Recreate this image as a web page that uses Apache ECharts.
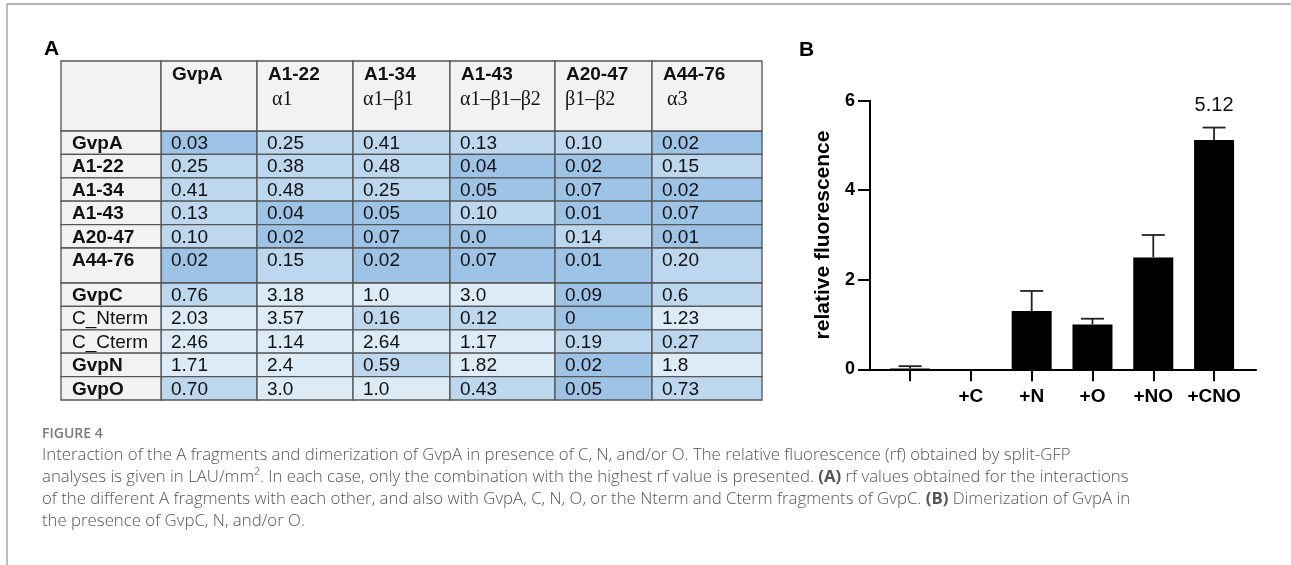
<!DOCTYPE html>
<html><head><meta charset="utf-8">
<script src="https://cdn.jsdelivr.net/npm/echarts@6/dist/echarts.min.js"></script>
<style>html,body{margin:0;padding:0;background:#fff}#c{width:1291px;height:565px}</style>
</head><body><div id="c"></div>
<script>
// ---------- DATA ----------
const colHeaders = ['GvpA', 'A1-22', 'A1-34', 'A1-43', 'A20-47', 'A44-76'];
const colSubHeaders = ['', ' α1', 'α1–β1', 'α1–β1–β2', 'β1–β2', ' α3'];
const rowLabels = ['GvpA', 'A1-22', 'A1-34', 'A1-43', 'A20-47', 'A44-76', 'GvpC', 'C_Nterm', 'C_Cterm', 'GvpN', 'GvpO'];
const rowGvpA   = ['0.03', '0.25', '0.41', '0.13', '0.10', '0.02'];
const rowA1_22  = ['0.25', '0.38', '0.48', '0.04', '0.02', '0.15'];
const rowA1_34  = ['0.41', '0.48', '0.25', '0.05', '0.07', '0.02'];
const rowA1_43  = ['0.13', '0.04', '0.05', '0.10', '0.01', '0.07'];
const rowA20_47 = ['0.10', '0.02', '0.07', '0.0', '0.14', '0.01'];
const rowA44_76 = ['0.02', '0.15', '0.02', '0.07', '0.01', '0.20'];
const rowGvpC   = ['0.76', '3.18', '1.0', '3.0', '0.09', '0.6'];
const rowCNterm = ['2.03', '3.57', '0.16', '0.12', '0', '1.23'];
const rowCCterm = ['2.46', '1.14', '2.64', '1.17', '0.19', '0.27'];
const rowGvpN   = ['1.71', '2.4', '0.59', '1.82', '0.02', '1.8'];
const rowGvpO   = ['0.70', '3.0', '1.0', '0.43', '0.05', '0.73'];
const tableRows = [rowGvpA, rowA1_22, rowA1_34, rowA1_43, rowA20_47, rowA44_76, rowGvpC, rowCNterm, rowCCterm, rowGvpN, rowGvpO];

const barCategories = ['', '+C', '+N', '+O', '+NO', '+CNO'];
const barValues = [0.02, 0, 1.3, 1.0, 2.5, 5.12];
const errorTops = [0.07, null, 1.75, 1.13, 3.0, 5.4];

// ---------- LAYOUT / STYLE ----------
const COL_W = [100, 96, 96, 97, 105, 97, 110];
const HEAD_H = 70, ROW_H = 23.4, TALL_H = 35, TALL_ROW = 5;
const plainRowLabels = new Set(['C_Nterm', 'C_Cterm']);
const colEdges = [0];
COL_W.forEach(w => colEdges.push(colEdges[colEdges.length - 1] + w));
const rowEdges = [0, HEAD_H];
rowLabels.forEach((_, i) => rowEdges.push(rowEdges[rowEdges.length - 1] + (i === TALL_ROW ? TALL_H : ROW_H)));
const TABLE_W = colEdges[colEdges.length - 1];
const TABLE_H = rowEdges[rowEdges.length - 1];
const SANS = '"Liberation Sans", Arial, sans-serif';
const SERIF = '"Liberation Serif", "Times New Roman", serif';
const CAP = '"Open Sans", sans-serif';
const BORDER = '#555';

// cells
const bodyCells = [];
tableRows.forEach((row, r) => row.forEach((t, c) => bodyCells.push({ value: [c + 1, r + 1, parseFloat(t)], text: t })));
const grayCells = [];
grayCells.push({ value: [0, 0], kind: 'corner' });
colHeaders.forEach((h, c) => grayCells.push({ value: [c + 1, 0], kind: 'head', text: h, sub: colSubHeaders[c] }));
rowLabels.forEach((l, r) => grayCells.push({ value: [0, r + 1], kind: 'row', text: l }));

function cellBox(api, ci, ri) {
  const p0 = api.coord([colEdges[ci], rowEdges[ri]]);
  const p1 = api.coord([colEdges[ci + 1], rowEdges[ri + 1]]);
  const pm = api.coord([colEdges[ci], rowEdges[ri] + ROW_H / 2]);
  return { x: p0[0], y: p0[1], w: p1[0] - p0[0], h: p1[1] - p0[1], midY: pm[1] };
}

const chart = echarts.init(document.getElementById('c'));
const errData = [];
errorTops.forEach((e, i) => { if (e != null) errData.push([i, barValues[i], e]); });
const maxBar = Math.max(...barValues);

const option = {
  animation: false,
  backgroundColor: '#fff',
  grid: [
    { left: 61, top: 61, width: TABLE_W, height: TABLE_H },
    { left: 870, top: 100.7, width: 386, height: 268.6 }
  ],
  xAxis: [
    { gridIndex: 0, type: 'value', min: 0, max: TABLE_W, show: false },
    {
      gridIndex: 1, type: 'value', min: -0.66, max: 5.69,
      splitLine: { show: false },
      axisLine: { show: true, onZero: false, lineStyle: { color: '#000', width: 2 } },
      axisTick: { show: true, length: 12, customValues: barCategories.map((_, i) => i), lineStyle: { color: '#000', width: 2 } },
      axisLabel: { customValues: barCategories.map((_, i) => i), formatter: v => barCategories[v], color: '#000', fontFamily: SANS, fontWeight: 'bold', fontSize: 19, margin: 18 }
    }
  ],
  yAxis: [
    { gridIndex: 0, type: 'value', min: 0, max: TABLE_H, inverse: true, show: false },
    {
      gridIndex: 1, type: 'value', min: 0, max: 6, interval: 2,
      splitLine: { show: false },
      axisLine: { show: true, onZero: false, lineStyle: { color: '#000', width: 2 } },
      axisTick: { show: true, length: 12, lineStyle: { color: '#000', width: 2 } },
      axisLabel: { color: '#000', fontFamily: SANS, fontWeight: 'bold', fontSize: 18, margin: 15 },
      name: 'relative fluorescence', nameLocation: 'middle', nameGap: 36,
      nameTextStyle: { color: '#000', fontFamily: SANS, fontWeight: 'bold', fontSize: 21 }
    }
  ],
  visualMap: {
    type: 'piecewise', show: false, seriesIndex: 0, dimension: 2,
    pieces: [
      { lt: 0.1, color: '#9DC3E6' },
      { gte: 0.1, lt: 1, color: '#BDD7EE' },
      { gte: 1, color: '#DDEBF7' }
    ]
  },
  series: [
    {
      type: 'custom', xAxisIndex: 0, yAxisIndex: 0, silent: true, clip: false,
      data: bodyCells,
      renderItem: (params, api) => {
        const b = cellBox(api, api.value(0), api.value(1));
        const cell = bodyCells[params.dataIndex];
        return {
          type: 'group', children: [
            { type: 'rect', shape: { x: b.x, y: b.y, width: b.w, height: b.h }, style: { fill: api.visual('color'), stroke: BORDER, lineWidth: 1.3 } },
            { type: 'text', style: { x: b.x + 10, y: b.midY + 1, text: cell.text, fill: '#111', font: '19px ' + SANS, verticalAlign: 'middle', align: 'left' } }
          ]
        };
      }
    },
    {
      type: 'custom', xAxisIndex: 0, yAxisIndex: 0, silent: true, clip: false,
      data: grayCells,
      renderItem: (params, api) => {
        const b = cellBox(api, api.value(0), api.value(1));
        const cell = grayCells[params.dataIndex];
        const ch = [{ type: 'rect', shape: { x: b.x, y: b.y, width: b.w, height: b.h }, style: { fill: '#F2F2F2', stroke: BORDER, lineWidth: 1.3 } }];
        if (cell.kind === 'head') {
          ch.push({ type: 'text', style: { x: b.x + 11, y: b.y + 14, text: cell.text, fill: '#111', font: 'bold 19px ' + SANS, verticalAlign: 'middle' } });
          ch.push({ type: 'text', style: { x: b.x + 10, y: b.y + 39, text: cell.sub, fill: '#111', font: '20px ' + SERIF, verticalAlign: 'middle' } });
        } else if (cell.kind === 'row') {
          ch.push({ type: 'text', style: { x: b.x + 11, y: b.midY + 1, text: cell.text, fill: '#111', font: (plainRowLabels.has(cell.text) ? '' : 'bold ') + '19px ' + SANS, verticalAlign: 'middle' } });
        }
        return { type: 'group', children: ch };
      }
    },
    {
      type: 'bar', xAxisIndex: 1, yAxisIndex: 1, barWidth: 40, silent: true,
      itemStyle: { color: '#000' },
      data: barValues.map((v, i) => ({
        value: [i, v],
        label: { show: v === maxBar, position: 'top', distance: 25, formatter: p => String(p.value[1]), color: '#111', fontFamily: SANS, fontSize: 20 }
      }))
    },
    {
      type: 'custom', xAxisIndex: 1, yAxisIndex: 1, silent: true, z: 3,
      data: errData,
      renderItem: (params, api) => {
        const pb = api.coord([api.value(0), api.value(1)]);
        const pt = api.coord([api.value(0), api.value(2)]);
        const st = { stroke: '#222', lineWidth: 1.8 };
        return {
          type: 'group', children: [
            { type: 'line', shape: { x1: pb[0], y1: pb[1], x2: pt[0], y2: pt[1] }, style: st },
            { type: 'line', shape: { x1: pt[0] - 11.5, y1: pt[1], x2: pt[0] + 11.5, y2: pt[1] }, style: st }
          ]
        };
      }
    }
  ],
  graphic: [
    { type: 'line', shape: { x1: 7, y1: 4, x2: 1291, y2: 4 }, style: { stroke: '#9a9a9a', lineWidth: 1.3 } },
    { type: 'line', shape: { x1: 7, y1: 4, x2: 7, y2: 565 }, style: { stroke: '#9a9a9a', lineWidth: 1.3 } },
    { type: 'text', style: { x: 44, y: 49, text: 'A', font: 'bold 21px ' + SANS, fill: '#000', verticalAlign: 'middle' } },
    { type: 'text', style: { x: 799, y: 50, text: 'B', font: 'bold 21px ' + SANS, fill: '#000', verticalAlign: 'middle' } },
    { type: 'text', style: { x: 42, y: 434, text: 'FIGURE 4', font: '600 14px ' + CAP, fill: '#7a7a7a', verticalAlign: 'middle' } },
    { type: 'text', style: { x: 42, y: 455, verticalAlign: 'middle', fill: '#555', font: '300 16.8px ' + CAP,
      text: 'Interaction of the A fragments and dimerization of GvpA in presence of C, N, and/or O. The relative fluorescence (rf) obtained by split-GFP' } },
    { type: 'text', style: { x: 42, y: 477, verticalAlign: 'middle', fill: '#555', font: '300 16.8px ' + CAP,
      text: 'analyses is given in LAU/mm². In each case, only the combination with the highest rf value is presented. {b|(A)} rf values obtained for the interactions',
      rich: { b: { fontWeight: 'bold', fontFamily: CAP, fontSize: 16.8, fill: '#555' } } } },
    { type: 'text', style: { x: 42, y: 499, verticalAlign: 'middle', fill: '#555', font: '300 16.8px ' + CAP,
      text: 'of the different A fragments with each other, and also with GvpA, C, N, O, or the Nterm and Cterm fragments of GvpC. {b|(B)} Dimerization of GvpA in',
      rich: { b: { fontWeight: 'bold', fontFamily: CAP, fontSize: 16.8, fill: '#555' } } } },
    { type: 'text', style: { x: 42, y: 521, verticalAlign: 'middle', fill: '#555', font: '300 16.8px ' + CAP,
      text: 'the presence of GvpC, N, and/or O.' } }
  ]
};
chart.setOption(option);
</script>
</body></html>
